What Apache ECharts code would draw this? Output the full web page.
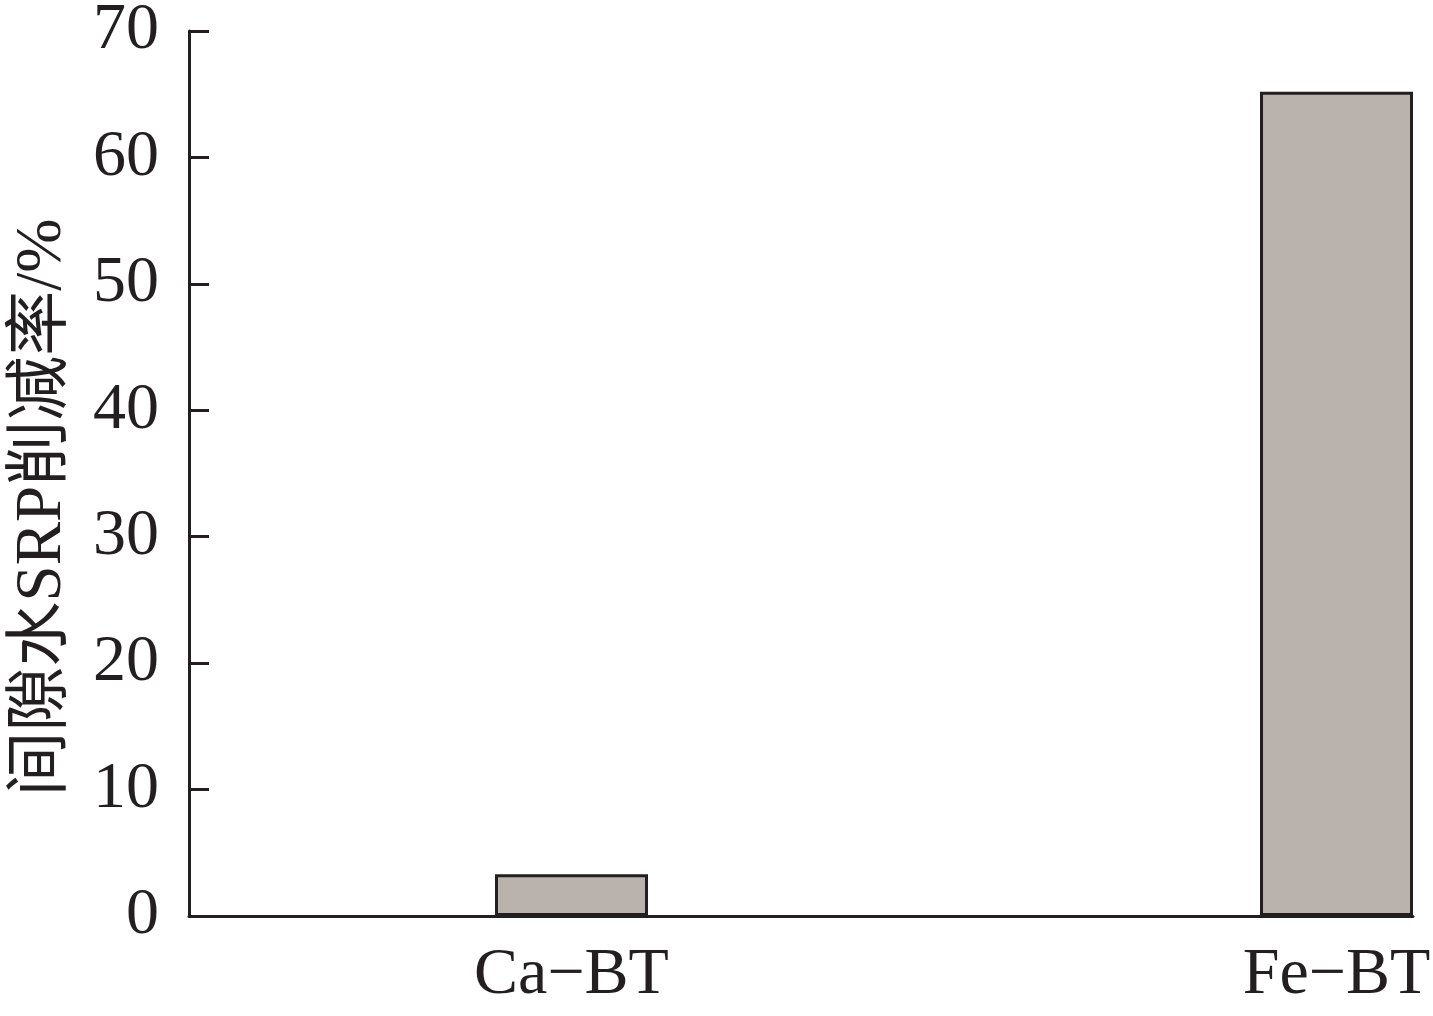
<!DOCTYPE html>
<html><head><meta charset="utf-8">
<script src="https://cdn.jsdelivr.net/npm/echarts@6/dist/echarts.min.js"></script>
<style>html,body{margin:0;padding:0;background:#fff}#c{width:1433px;height:1016px}</style>
</head><body><div id="c"></div>
<script>
const categories = ['', '', 'Ca\u2212BT', '', '', '', '', 'Fe\u2212BT'];
const values = [null, null, 3.3, null, null, null, null, 65.2];
const yTicks = { min: 0, max: 70, interval: 10 };
const yName = '间隙水SRP削减率/%';

const ink = '#231f20';
const font = '"Liberation Serif","Times New Roman",serif';
const chart = echarts.init(document.getElementById('c'));
chart.setOption({
  animation: false,
  backgroundColor: '#fff',
  grid: { left: 189, right: 20, top: 31, bottom: 100, outerBoundsMode: 'none', containLabel: false },
  xAxis: {
    type: 'category', data: categories,
    axisLine: { lineStyle: { color: ink, width: 3 } },
    axisTick: { show: false },
    axisLabel: { color: ink, fontFamily: font, fontSize: 66, margin: 27, interval: 0 }
  },
  yAxis: {
    type: 'value', min: yTicks.min, max: yTicks.max, interval: yTicks.interval,
    name: yName, nameLocation: 'middle', nameGap: 114, nameRotate: 90,
    nameTextStyle: { color: ink, fontFamily: '"Liberation Serif","Noto Sans CJK SC",serif', fontSize: 65, padding: [0, 68, 0, 0] },
    axisLine: { show: true, lineStyle: { color: ink, width: 3 } },
    axisTick: { show: true, inside: true, length: 20, lineStyle: { color: ink, width: 3 } },
    splitLine: { show: false },
    axisLabel: { color: ink, fontFamily: font, fontSize: 66, margin: 30, padding: [6, 0, 0, 0] }
  },
  series: [{
    type: 'bar', data: values, barWidth: '100%',
    itemStyle: { color: '#bab2ad', borderColor: ink, borderWidth: 3 }
  }]
});
</script></body></html>
